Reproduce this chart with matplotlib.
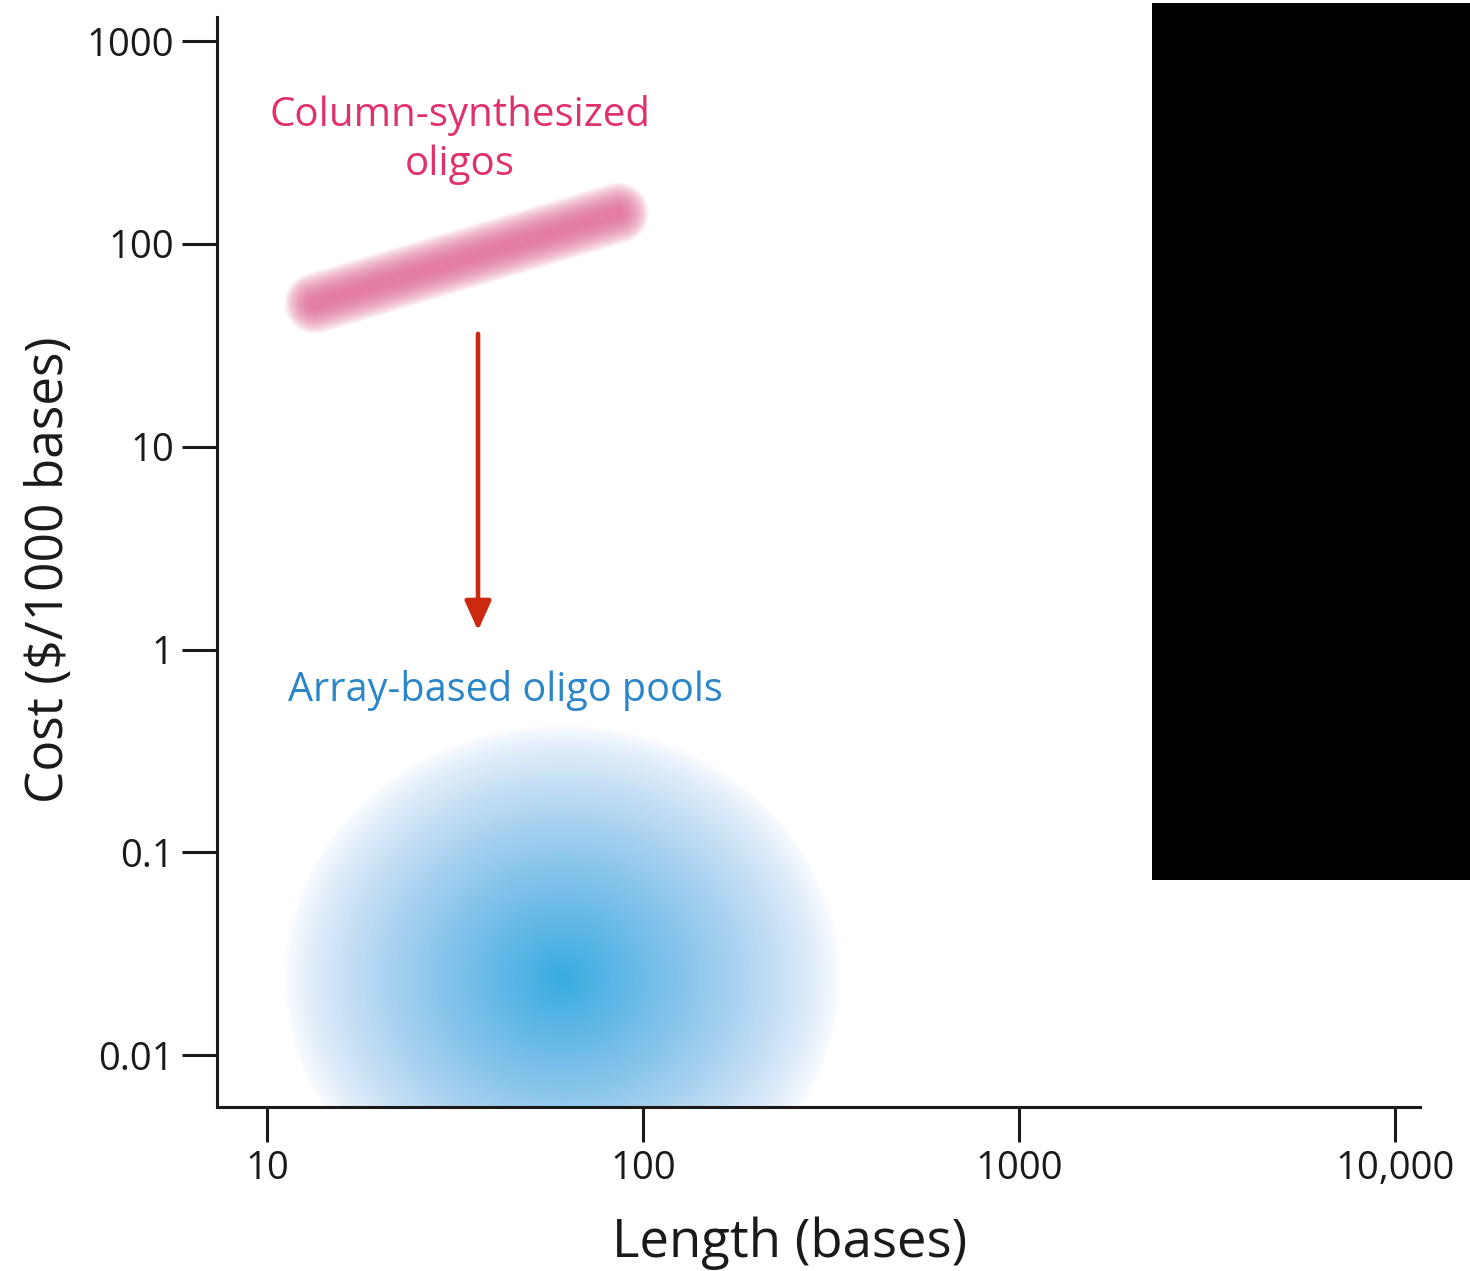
import matplotlib
matplotlib.use('Agg')
import matplotlib.pyplot as plt
import matplotlib.transforms as mtransforms
from matplotlib.patches import Ellipse, Rectangle
from matplotlib.colors import to_rgb
import numpy as np

plt.rcParams['font.family'] = ['Open Sans', 'DejaVu Sans']

# data
x_ticks = [10, 100, 1000, 10000]
x_ticklabels = ['10', '100', '1000', '10,000']
y_ticks = [0.01, 0.1, 1, 10, 100, 1000]
y_ticklabels = ['0.01', '0.1', '1', '10', '100', '1000']

column_len = [13.4, 86]      # column-synthesized oligos, length (bases)
column_cost = [51, 142]      # cost ($/1000 bases)
array_len = 61               # centre of array-based oligo pool cloud
array_cost = 0.024
arrow_len = 36.4
arrow_cost = [36, 1.24]

pink = '#e0306e'
blue = '#2a86c8'
ink = '#1a1a1a'

fig = plt.figure(figsize=(14.7, 12.71), dpi=100)
ax = fig.add_axes([0.1476, 0.129, 0.8184, 0.8576])
ax.set_xscale('log')
ax.set_yscale('log')
ax.set_xlim(7.36, 11650)
ax.set_ylim(0.00555, 1313)

# blurred pink band
for lw in np.linspace(44, 6, 32):
    ax.plot(column_len, column_cost, color='#e4699a', lw=lw, alpha=0.05,
            solid_capstyle='round', zorder=2)

# blue cloud: opaque nested ellipses, each already mixed with the white background
n = 120
radii = np.linspace(1, 0, n, endpoint=False)
c_out = np.array(to_rgb('#5e9de0'))
c_in = np.array(to_rgb('#33aae0'))
white = np.ones(3)
tr = fig.dpi_scale_trans + mtransforms.ScaledTranslation(
    array_len, array_cost, ax.transData)
for r in radii:
    o = 0.98 * (1 - r) ** 0.72
    col = c_in + (c_out - c_in) * r
    col = white + (col - white) * o
    e = Ellipse((0, 0), 2 * 2.8 * r, 2 * 2.55 * r, transform=tr,
                facecolor=col, edgecolor='none', zorder=1)
    e.set_clip_path(ax.patch)
    ax.add_patch(e)

ax.annotate('', xy=(arrow_len, arrow_cost[1]), xytext=(arrow_len, arrow_cost[0]),
            arrowprops=dict(arrowstyle='-|>,head_length=1.0,head_width=0.45',
                            color='#cc2a10', lw=3.3, shrinkA=0, shrinkB=0,
                            mutation_scale=18), zorder=3)

ax.text(32.6, 325, 'Column-synthesized\noligos', color=pink, fontsize=29,
        ha='center', va='center', linespacing=1.3)
ax.text(11.4, 0.628, 'Array-based oligo pools', color=blue, fontsize=28.5,
        ha='left', va='center')

for s in ['top', 'right']:
    ax.spines[s].set_visible(False)
for s in ['left', 'bottom']:
    ax.spines[s].set_linewidth(2.2)
    ax.spines[s].set_color(ink)

ax.set_xticks(x_ticks)
ax.set_xticklabels(x_ticklabels)
ax.set_yticks(y_ticks)
ax.set_yticklabels(y_ticklabels)
ax.minorticks_off()
ax.tick_params(axis='both', length=25, width=2.2, color=ink,
               labelsize=27.5, labelcolor=ink, pad=6)

ax.set_xlabel('Length (bases)', fontsize=38, color=ink)
ax.set_ylabel('Cost ($/1000 bases)', fontsize=37, color=ink)
ax.xaxis.set_label_coords(0.476, -0.1)
ax.yaxis.set_label_coords(-0.118, 0.493)

fig.patches.append(Rectangle((1152 / 1470, 1 - 880 / 1271), 318 / 1470, 877 / 1271,
                             transform=fig.transFigure, facecolor='black',
                             edgecolor='none', zorder=10))

fig.savefig('out.png', dpi=100)
